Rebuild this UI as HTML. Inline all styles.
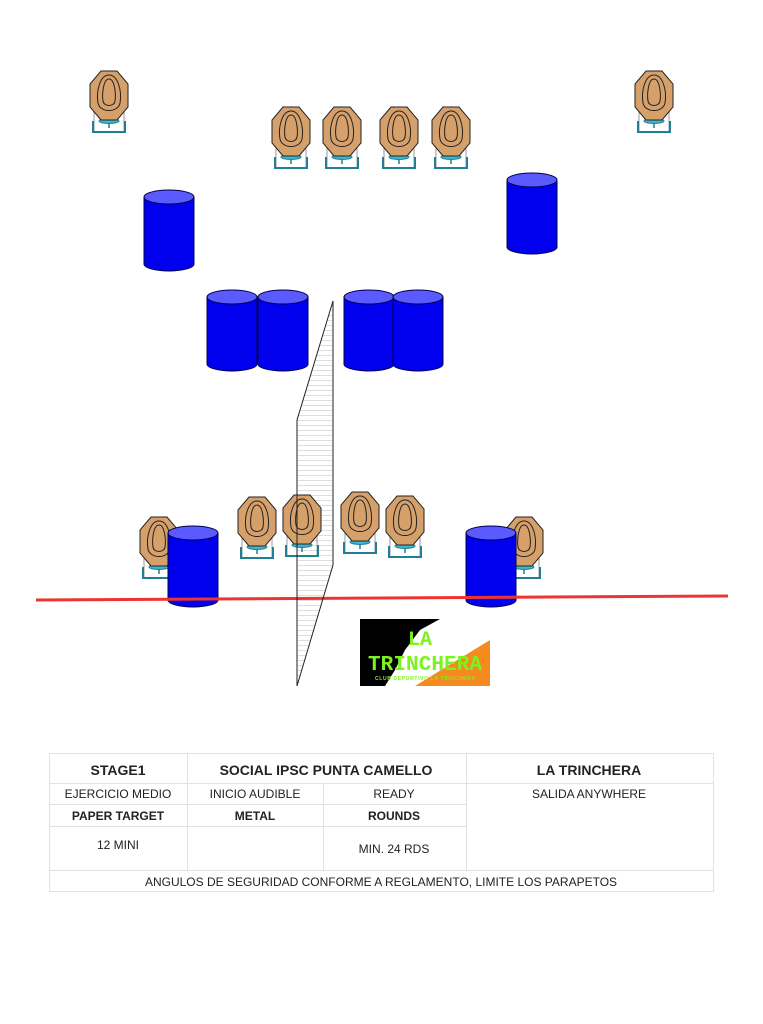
<!DOCTYPE html>
<html><head><meta charset="utf-8"><style>
body{margin:0;background:#fff;width:763px;height:1024px;overflow:hidden;font-family:"Liberation Sans",sans-serif}
svg{position:absolute;left:0;top:0}
</style></head><body>
<svg width="763" height="1024" viewBox="0 0 763 1024">
<defs>
<g id="t">
<line x1="4" y1="36" x2="4" y2="60" stroke="#999" stroke-width="1"/>
<line x1="34" y1="36" x2="34" y2="60" stroke="#999" stroke-width="1"/>
<polyline points="3,50 3,61 35,61 35,50" fill="none" stroke="#1f7f95" stroke-width="2"/>
<ellipse cx="19" cy="50" rx="10" ry="2.5" fill="#3fb6d0" stroke="#1f7f95" stroke-width="1"/>
<line x1="19" y1="52" x2="19" y2="57" stroke="#1f7f95" stroke-width="1.5"/>
<polygon points="11,0 27,0 38,13 38,36 27,49 11,49 0,36 0,13" fill="#d6a06b" stroke="#222" stroke-width="1"/>
<path d="M19,4 C28,4 32,20 30,32 C28,42 10,42 8,32 C6,20 10,4 19,4Z" fill="none" stroke="#222" stroke-width="1"/>
<path d="M19,8 C25,8 26,24 25,30 C24,36 14,36 13,30 C12,24 13,8 19,8Z" fill="none" stroke="#222" stroke-width="1"/>
</g>
<g id="b">
<path d="M0,8 L0,75 A25,7 0 0 0 50,75 L50,8 Z" fill="#0000ee" stroke="#000050" stroke-width="1"/>
<ellipse cx="25" cy="8" rx="25" ry="7" fill="#5a5aff" stroke="#000050" stroke-width="1"/>
</g>
<pattern id="h" width="10" height="5" patternUnits="userSpaceOnUse"><line x1="0" y1="0.5" x2="10" y2="0.5" stroke="#ddd" stroke-width="1"/></pattern>
</defs>
<use href="#t" x="90" y="71"/><use href="#t" x="635" y="71"/>
<use href="#t" x="272" y="107"/><use href="#t" x="323" y="107"/><use href="#t" x="380" y="107"/><use href="#t" x="432" y="107"/>
<use href="#b" x="144" y="189"/><use href="#b" x="507" y="172"/>
<use href="#b" x="207" y="289"/><use href="#b" x="258" y="289"/><use href="#b" x="344" y="289"/><use href="#b" x="393" y="289"/>
<polygon points="333,301 297,420 297,686 333,565" fill="url(#h)"/>
<use href="#t" x="140" y="517"/><use href="#t" x="238" y="497"/><use href="#t" x="283" y="495"/><use href="#t" x="341" y="492"/><use href="#t" x="386" y="496"/><use href="#t" x="505" y="517"/>
<use href="#b" x="168" y="525"/><use href="#b" x="466" y="525"/>
<line x1="36" y1="600" x2="728" y2="596" stroke="#ee3333" stroke-width="3"/>
<polygon points="333,301 297,420 297,686 333,565" fill="none" stroke="#222" stroke-width="1"/>
<polygon points="360,619 440,619 420,630 405,650 395,670 385,686 360,686" fill="#000"/>
<polygon points="415,686 490,640 490,686" fill="#f58a1f"/>
<text x="408" y="645" font-size="20" font-weight="bold" fill="#7cf21f" font-family="Liberation Mono,monospace">LA</text>
<text x="368" y="670" font-size="21" font-weight="bold" fill="#7cf21f" font-family="Liberation Mono,monospace" textLength="114">TRINCHERA</text>
<text x="375" y="680" font-size="5" font-weight="bold" fill="#7cf21f" textLength="100">CLUB DEPORTIVO LA TRINCHERA</text>
<g stroke="#e2e2e2" stroke-width="1" fill="none">
<rect x="49.5" y="753.5" width="664" height="138"/>
<line x1="49" y1="783.5" x2="713" y2="783.5"/>
<line x1="49" y1="804.5" x2="466" y2="804.5"/>
<line x1="49" y1="826.5" x2="466" y2="826.5"/>
<line x1="49" y1="870.5" x2="713" y2="870.5"/>
<line x1="187.5" y1="753" x2="187.5" y2="870"/>
<line x1="466.5" y1="753" x2="466.5" y2="870"/>
<line x1="323.5" y1="783" x2="323.5" y2="870"/>
</g>
<g fill="#222" text-anchor="middle" font-size="12">
<text x="118" y="775" font-size="14" font-weight="bold">STAGE1</text>
<text x="326" y="775" font-size="14" font-weight="bold">SOCIAL IPSC PUNTA CAMELLO</text>
<text x="589" y="775" font-size="14" font-weight="bold">LA TRINCHERA</text>
<text x="118" y="798">EJERCICIO MEDIO</text>
<text x="255" y="798">INICIO AUDIBLE</text>
<text x="394" y="798">READY</text>
<text x="589" y="798">SALIDA ANYWHERE</text>
<text x="118" y="820" font-weight="bold">PAPER TARGET</text>
<text x="255" y="820" font-weight="bold">METAL</text>
<text x="394" y="820" font-weight="bold">ROUNDS</text>
<text x="118" y="849">12 MINI</text>
<text x="394" y="853">MIN. 24 RDS</text>
<text x="381" y="886">ANGULOS DE SEGURIDAD CONFORME A REGLAMENTO, LIMITE LOS PARAPETOS</text>
</g>
</svg>
</body></html>
